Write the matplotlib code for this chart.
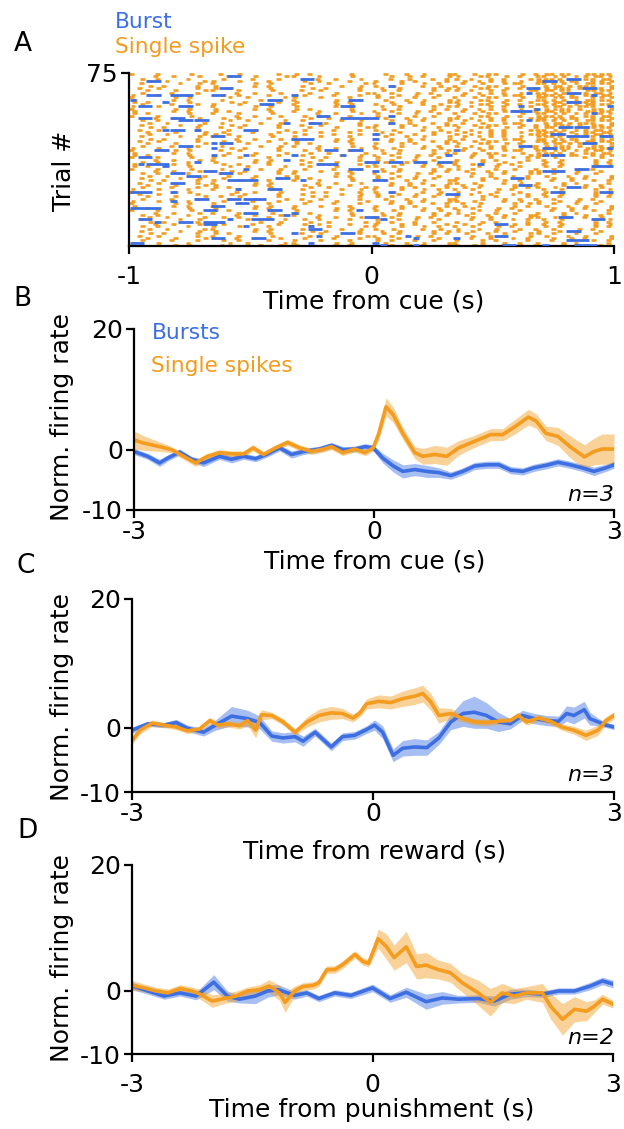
import matplotlib.pyplot as plt
import numpy as np

plt.rcParams['font.family'] = ['DejaVu Sans']
plt.rcParams['axes.unicode_minus'] = False

BLUE = '#3d6fe3'
ORANGE = '#f39c1f'

# Panel A raster: one string per trial, trial 75 first; 60 time bins from -1 to 1 s
# 'o' / 'c' / 'e' = single spike early / middle / late in the bin
RASTER_ROWS = [
    "o..c...e.. .o.e....c. e.o....c.. .e..o.c..e o.e.co..e. oeoco.ecco",
    "...o.c..e. ..o..e...c o..c...e.. ..c.e.o..e e..co.e.o. coee.oceoc",
    ".e.c...o.. .e...o..c. ...o.c..e. ..o.e..c.o c.o.e.o..e ecooe.coeo",
    "..c.e....o c..e...o.. .e.c...o.. c..e.o...o .c.oe.o.c. eoeceo.oce",
    ".c....o.e. o....e.c.. ..c.e....o o..e..c.o. .o.e..ceo. coce.oeoco",
    "..e.o...c. e....c.o.. .c....o.e. c.e...o.c. o.e.co..e. .ceoceco.e",
    ".o.e....c. e.o....c.. ..e.o...c. .o.c...e.c e..co.e.o. oeecoe.coe",
    "..o..e...c o..c...e.. .o.e....c. .c.o...e.o c.o.e.o..e oeoco.ecco",
    ".e...o..c. ...o.c..e. ..o..e...c o.c..e.o.. .c.oe.o.c. coee.oceoc",
    "c..e...o.. .e.c...o.. .e...o..c. e..o.c..o. .o.e..ceo. ecooe.coeo",
    "o....e.c.. ..c.e....o c..e...o.. e.c..o.e.. o.e.co..e. eoeceo.oce",
    "e....c.o.. .c....o.e. o....e.c.. .e..o.c..e e..co.e.o. coce.oeoco",
    "e.o....c.. ..e.o...c. e....c.o.. ..c.e.o..e c.o.e.o..e .ceoceco.e",
    ".e...o..c. c..e...o.. o....e.c.. c.e...o.c. e..co.e.o. coce.oeoco",
    "c..e...o.. o....e.c.. e....c.o.. .o.c...e.c c.o.e.o..e .ceoceco.e",
    "o....e.c.. e....c.o.. e.o....c.. .c.o...e.o .c.oe.o.c. oeecoe.coe",
    "e....c.o.. e.o....c.. o..c...e.. o.c..e.o.. .o.e..ceo. oeoco.ecco",
    "e.o....c.. o..c...e.. ...o.c..e. e..o.c..o. o.e.co..e. coee.oceoc",
    "o..c...e.. ...o.c..e. .e.c...o.. e.c..o.e.. e..co.e.o. ecooe.coeo",
    "...o.c..e. .e.c...o.. ..c.e....o .e..o.c..e c.o.e.o..e eoeceo.oce",
    ".e.c...o.. ..c.e....o .c....o.e. ..c.e.o..e .c.oe.o.c. coce.oeoco",
    "..c.e....o .c....o.e. ..e.o...c. ..o.e..c.o .o.e..ceo. .ceoceco.e",
    ".c....o.e. ..e.o...c. .o.e....c. c..e.o...o o.e.co..e. oeecoe.coe",
    "..e.o...c. .o.e....c. ..o..e...c o..e..c.o. e..co.e.o. oeoco.ecco",
    ".o.e....c. ..o..e...c .e...o..c. c.e...o.c. c.o.e.o..e coee.oceoc",
    "..o..e...c .e...o..c. c..e...o.. .o.c...e.c .c.oe.o.c. ecooe.coeo",
    "..c.e....o e.o....c.. .e...o..c. e.c..o.e.. c.o.e.o..e coee.oceoc",
    ".c....o.e. o..c...e.. c..e...o.. .e..o.c..e .c.oe.o.c. ecooe.coeo",
    "..e.o...c. ...o.c..e. o....e.c.. ..c.e.o..e .o.e..ceo. eoeceo.oce",
    ".o.e....c. .e.c...o.. e....c.o.. ..o.e..c.o o.e.co..e. coce.oeoco",
    "..o..e...c ..c.e....o e.o....c.. c..e.o...o e..co.e.o. .ceoceco.e",
    ".e...o..c. .c....o.e. o..c...e.. o..e..c.o. c.o.e.o..e oeecoe.coe",
    "c..e...o.. ..e.o...c. ...o.c..e. c.e...o.c. .c.oe.o.c. oeoco.ecco",
    "o....e.c.. .o.e....c. .e.c...o.. .o.c...e.c .o.e..ceo. coee.oceoc",
    "e....c.o.. ..o..e...c ..c.e....o .c.o...e.o o.e.co..e. ecooe.coeo",
    "e.o....c.. .e...o..c. .c....o.e. o.c..e.o.. ..c.e.o..e eoeceo.oce",
    "o..c...e.. c..e...o.. ..e.o...c. e..o.c..o. ..o.e..c.o c.e...o.c.",
    "...o.c..e. o....e.c.. .o.e....c. e.c..o.e.. c..e.o...o .o.c...e.c",
    ".e.c...o.. e....c.o.. ..o..e...c .e..o.c..e o..e..c.o. .c.o...e.o",
    "e....c.o.. .e.c...o.. .o.e....c. o..e..c.o. o.c..e.o.. .o.c...e.c",
    "e.o....c.. ..c.e....o ..o..e...c c.e...o.c. e..o.c..o. .c.o...e.o",
    "o..c...e.. .c....o.e. .e...o..c. .o.c...e.c e.c..o.e.. o.c..e.o..",
    "...o.c..e. ..e.o...c. c..e...o.. .c.o...e.o .e..o.c..e e..o.c..o.",
    ".e.c...o.. .o.e....c. o....e.c.. o.c..e.o.. ..c.e.o..e e.c..o.e..",
    "..c.e....o ..o..e...c e....c.o.. e..o.c..o. ..o.e..c.o .e..o.c..e",
    ".c....o.e. .e...o..c. e.o....c.. e.c..o.e.. c..e.o...o ..c.e.o..e",
    "..e.o...c. c..e...o.. o..c...e.. .e..o.c..e o..e..c.o. ..o.e..c.o",
    ".o.e....c. o....e.c.. ...o.c..e. ..c.e.o..e c.e...o.c. c..e.o...o",
    "..o..e...c e....c.o.. .e.c...o.. ..o.e..c.o .o.c...e.c o..e..c.o.",
    ".e...o..c. e.o....c.. ..c.e....o c..e.o...o .c.o...e.o c.e...o.c.",
    "c..e...o.. o..c...e.. .c....o.e. o..e..c.o. o.c..e.o.. .o.c...e.c",
    "o....e.c.. ...o.c..e. ..e.o...c. c.e...o.c. e..o.c..o. .c.o...e.o",
    ".o.e....c. ..e.o...c. .c....o.e. e..o.c..o. ..o.e..c.o .o.c...e.c",
    "..o..e...c .o.e....c. ..e.o...c. e.c..o.e.. c..e.o...o .c.o...e.o",
    ".e...o..c. ..o..e...c .o.e....c. .e..o.c..e o..e..c.o. o.c..e.o..",
    "c..e...o.. .e...o..c. ..o..e...c ..c.e.o..e c.e...o.c. e..o.c..o.",
    "o....e.c.. c..e...o.. .e...o..c. ..o.e..c.o .o.c...e.c e.c..o.e..",
    "e....c.o.. o....e.c.. c..e...o.. c..e.o...o .c.o...e.o .e..o.c..e",
    "e.o....c.. e....c.o.. o....e.c.. o..e..c.o. o.c..e.o.. ..c.e.o..e",
    "o..c...e.. e.o....c.. e....c.o.. c.e...o.c. e..o.c..o. ..o.e..c.o",
    "...o.c..e. o..c...e.. e.o....c.. .o.c...e.c e.c..o.e.. c..e.o...o",
    ".e.c...o.. ...o.c..e. o..c...e.. .c.o...e.o .e..o.c..e o..e..c.o.",
    "..c.e....o .e.c...o.. ...o.c..e. o.c..e.o.. ..c.e.o..e c.e...o.c.",
    ".c....o.e. ..c.e....o .e.c...o.. e..o.c..o. ..o.e..c.o .o.c...e.c",
    "..e.o...c. .c....o.e. ..c.e....o e.c..o.e.. c..e.o...o .c.o...e.o",
    "...o.c..e. .e...o..c. .e.c...o.. c..e.o...o .c.o...e.o .o.c...e.c",
    ".e.c...o.. c..e...o.. ..c.e....o o..e..c.o. o.c..e.o.. .c.o...e.o",
    "..c.e....o o....e.c.. .c....o.e. c.e...o.c. e..o.c..o. o.c..e.o..",
    ".c....o.e. e....c.o.. ..e.o...c. .o.c...e.c e.c..o.e.. e..o.c..o.",
    "..e.o...c. e.o....c.. .o.e....c. .c.o...e.o .e..o.c..e e.c..o.e..",
    ".o.e....c. o..c...e.. ..o..e...c o.c..e.o.. ..c.e.o..e .e..o.c..e",
    "..o..e...c ...o.c..e. .e...o..c. e..o.c..o. ..o.e..c.o ..c.e.o..e",
    ".e...o..c. .e.c...o.. c..e...o.. e.c..o.e.. c..e.o...o ..o.e..c.o",
    "c..e...o.. ..c.e....o o....e.c.. .e..o.c..e o..e..c.o. c..e.o...o",
    "o....e.c.. .c....o.e. e....c.o.. ..c.e.o..e c.e...o.c. o..e..c.o.",
]
SPIKE_OFFSET = {'o': 0.0, 'c': 0.2, 'e': 0.4}

# bursts: (trial, first bin, last bin)
BURSTS = [
    (74, 12, 13), (73, 21, 22), (73, 54, 55), (72, 2, 3), (72, 51, 52),
    (70, 32, 32), (69, 11, 12), (69, 49, 50), (69, 56, 57), (67, 49, 49),
    (67, 54, 55), (66, 2, 3), (66, 5, 7), (66, 10, 11), (66, 20, 20),
    (66, 57, 57), (64, 0, 0), (64, 17, 18), (64, 27, 28), (63, 4, 4),
    (63, 54, 55), (62, 16, 17), (61, 1, 2), (61, 6, 7), (61, 26, 27),
    (61, 48, 48), (61, 59, 59), (60, 50, 50), (59, 47, 49), (58, 57, 57),
    (57, 23, 24), (57, 32, 32), (56, 1, 2), (56, 5, 6), (56, 26, 30),
    (55, 6, 7), (55, 8, 9), (55, 49, 49), (54, 19, 19), (54, 22, 23),
    (54, 32, 32), (52, 53, 54), (52, 55, 56), (51, 4, 4), (51, 5, 6),
    (51, 8, 8), (51, 14, 15), (49, 30, 30), (49, 52, 53), (48, 10, 11),
    (48, 54, 56), (48, 58, 59), (47, 20, 22), (47, 30, 30), (45, 10, 10),
    (45, 11, 12), (45, 56, 57), (44, 6, 7), (44, 48, 49), (43, 10, 10),
    (43, 51, 52), (43, 59, 59), (42, 3, 4), (42, 24, 25), (42, 27, 28),
    (42, 40, 40), (40, 10, 10), (40, 14, 14), (40, 20, 20), (40, 26, 26),
    (40, 39, 39), (40, 51, 51), (40, 52, 53), (39, 1, 2), (38, 19, 19),
    (37, 8, 8), (37, 29, 30), (37, 32, 33), (37, 35, 36), (37, 38, 39),
    (36, 1, 1), (36, 2, 4), (36, 23, 25), (36, 43, 43), (35, 4, 4),
    (35, 57, 59), (34, 14, 14), (34, 27, 28), (34, 55, 56), (33, 9, 10),
    (33, 30, 30), (33, 51, 53), (32, 5, 6), (32, 11, 12), (31, 7, 8),
    (30, 18, 19), (30, 47, 48), (29, 12, 15), (29, 21, 21), (29, 30, 31),
    (28, 5, 6), (27, 48, 49), (26, 54, 55), (25, 13, 13), (25, 17, 18),
    (24, 0, 2), (24, 5, 5), (24, 32, 32), (24, 52, 53), (24, 58, 59),
    (23, 39, 40), (21, 8, 9), (21, 12, 13), (21, 14, 16), (20, 5, 5),
    (19, 13, 14), (18, 10, 11), (17, 0, 3), (16, 9, 10), (16, 17, 18),
    (16, 28, 28), (15, 14, 15), (15, 20, 20), (14, 19, 19), (13, 29, 30),
    (13, 53, 54), (12, 1, 2), (12, 12, 12), (12, 15, 17), (12, 31, 31),
    (12, 57, 58), (11, 3, 3), (11, 6, 7), (11, 9, 11), (10, 9, 10),
    (10, 45, 46), (9, 14, 14), (9, 22, 22), (8, 22, 23), (7, 54, 55),
    (6, 20, 20), (6, 26, 27), (5, 23, 23), (5, 34, 34), (5, 45, 46),
    (4, 10, 11), (4, 15, 16), (4, 35, 35), (4, 40, 40), (3, 54, 56),
    (2, 0, 1), (2, 22, 22), (2, 30, 30), (1, 31, 31), (1, 35, 35),
    (1, 46, 47), (1, 51, 51), (1, 55, 57),
]

# Panel B: time from cue
B_T_ORANGE = [-3.0, -2.88, -2.68, -2.53, -2.38, -2.23, -2.08, -1.93, -1.78, -1.63,
              -1.51, -1.38, -1.23, -1.08, -0.93, -0.78, -0.63, -0.53, -0.39, -0.24,
              -0.11, -0.01, 0.06, 0.15, 0.24, 0.36, 0.51, 0.61, 0.76, 0.91,
              1.06, 1.26, 1.46, 1.61, 1.76, 1.93, 2.03, 2.15, 2.30, 2.45,
              2.63, 2.75, 2.85, 3.0]
B_ORANGE = [1.6, 1.1, 0.5, 0.0, -1.1, -2.2, -1.1, -0.5, -0.7, -0.7,
            0.3, -0.8, 0.3, 1.2, 0.3, -0.3, 0.1, 0.5, -0.5, 0.1,
            -0.5, 0.3, 2.7, 7.1, 5.8, 2.7, -0.5, -1.1, -0.8, -1.1,
            0.3, 1.4, 2.5, 2.5, 3.8, 5.4, 4.7, 2.7, 2.2, 0.5,
            -1.2, -0.3, 0.1, 0.1]
B_ORANGE_ERR = [1.5, 1.2, 0.8, 0.5, 0.5, 0.6, 0.5, 0.5, 0.5, 0.5,
                0.5, 0.5, 0.5, 0.5, 0.5, 0.5, 0.5, 0.5, 0.5, 0.5,
                0.5, 0.5, 1.0, 1.5, 1.3, 1.0, 1.0, 1.3, 1.5, 1.5,
                1.2, 1.0, 1.0, 1.0, 1.2, 1.3, 1.2, 1.2, 1.5, 1.8,
                2.0, 2.2, 2.5, 2.5]
B_T_BLUE = [-3.0, -2.83, -2.68, -2.58, -2.43, -2.28, -2.13, -1.93, -1.78, -1.63,
            -1.48, -1.33, -1.18, -1.03, -0.88, -0.68, -0.53, -0.39, -0.24, -0.11,
            -0.01, 0.11, 0.24, 0.36, 0.51, 0.66, 0.81, 0.96, 1.11, 1.26,
            1.41, 1.56, 1.71, 1.86, 2.00, 2.15, 2.30, 2.45, 2.60, 2.75,
            2.90, 3.0]
B_BLUE = [-0.3, -1.1, -2.2, -1.4, -0.4, -1.6, -2.2, -1.1, -1.6, -1.1,
          -1.5, -0.7, 0.3, -0.8, -0.3, 0.1, 0.7, 0.0, 0.1, 0.5,
          0.3, -1.4, -2.7, -3.6, -3.3, -3.6, -3.8, -4.3, -3.6, -2.7,
          -2.5, -2.5, -3.4, -3.6, -3.0, -2.6, -2.1, -2.5, -3.0, -3.6,
          -3.0, -2.5]
B_BLUE_ERR = [0.5, 0.5, 0.6, 0.5, 0.5, 0.5, 0.6, 0.5, 0.6, 0.5,
              0.5, 0.5, 0.5, 0.6, 0.5, 0.5, 0.5, 0.5, 0.5, 0.5,
              0.5, 0.8, 1.0, 1.1, 1.0, 1.0, 0.8, 0.6, 0.6, 0.6,
              0.6, 0.6, 0.6, 0.6, 0.6, 0.6, 0.6, 0.6, 0.6, 0.7,
              0.6, 0.6]

# Panel C: time from reward
C_T_ORANGE = [-3.0, -2.90, -2.75, -2.60, -2.45, -2.31, -2.16, -2.03, -1.93, -1.81,
              -1.66, -1.56, -1.46, -1.39, -1.26, -1.12, -0.97, -0.82, -0.67, -0.52,
              -0.38, -0.25, -0.17, -0.08, 0.07, 0.22, 0.37, 0.52, 0.62, 0.72,
              0.82, 0.97, 1.12, 1.26, 1.41, 1.56, 1.71, 1.81, 1.91, 2.06,
              2.21, 2.35, 2.50, 2.65, 2.80, 2.90, 3.0]
C_ORANGE = [-2.0, -0.4, 0.7, 0.4, 0.1, -0.5, -0.2, 1.1, 0.4, 0.6,
            0.3, 1.1, -0.4, 2.0, 1.9, 0.9, -0.7, 0.9, 1.9, 2.3,
            2.2, 1.5, 2.2, 3.7, 4.1, 3.9, 4.5, 4.9, 5.3, 4.0,
            1.9, 2.2, 1.4, 0.9, 0.8, 1.0, 1.1, 1.9, 0.9, 1.5,
            1.0, 0.1, -0.4, -1.2, -0.4, 1.1, 1.9]
C_ORANGE_ERR = [0.6, 0.6, 0.5, 0.4, 0.4, 0.4, 0.4, 0.5, 0.5, 0.5,
                0.5, 0.8, 1.2, 0.8, 0.5, 0.5, 0.5, 0.8, 1.0, 1.0,
                0.8, 0.6, 0.6, 0.8, 1.0, 1.0, 1.2, 1.3, 1.3, 1.3,
                1.2, 0.8, 0.5, 0.5, 0.5, 0.5, 0.5, 0.5, 0.5, 0.5,
                0.5, 0.5, 0.6, 0.8, 0.8, 0.6, 0.6]
C_T_BLUE = [-3.0, -2.80, -2.60, -2.45, -2.31, -2.11, -1.96, -1.76, -1.56, -1.41,
            -1.26, -1.12, -0.97, -0.87, -0.72, -0.52, -0.38, -0.23, -0.08, 0.02,
            0.12, 0.25, 0.37, 0.52, 0.67, 0.82, 0.97, 1.12, 1.26, 1.41,
            1.56, 1.71, 1.86, 2.01, 2.16, 2.31, 2.41, 2.50, 2.63, 2.70,
            2.80, 2.90, 3.0]
C_BLUE = [-0.4, 0.6, 0.4, 0.8, -0.1, -0.7, 0.4, 1.8, 1.4, 0.8,
          -1.3, -1.6, -1.4, -2.1, -0.7, -3.0, -1.4, -1.2, -0.3, 0.4,
          -0.7, -4.3, -3.2, -3.0, -3.1, -1.6, 0.9, 2.2, 2.4, 1.9,
          0.9, 0.6, 1.9, 1.4, 1.1, 1.0, 2.2, 1.9, 2.8, 1.4,
          0.9, 0.4, 0.1]
C_BLUE_ERR = [0.5, 0.4, 0.4, 0.5, 0.5, 0.6, 0.8, 1.5, 1.3, 1.0,
              0.8, 0.8, 0.8, 0.8, 0.6, 0.6, 0.6, 0.6, 0.6, 0.8,
              1.0, 1.0, 1.2, 1.3, 1.2, 1.0, 1.2, 2.0, 2.5, 2.0,
              1.5, 0.8, 0.8, 0.8, 0.8, 0.8, 1.2, 1.3, 1.3, 1.0,
              0.6, 0.4, 0.4]

# Panel D: time from punishment
D_T_ORANGE = [-3.0, -2.85, -2.70, -2.55, -2.40, -2.25, -2.15, -2.0, -1.85, -1.70,
              -1.56, -1.41, -1.29, -1.16, -1.09, -0.97, -0.87, -0.74, -0.67, -0.57,
              -0.47, -0.37, -0.22, -0.12, -0.05, 0.07, 0.17, 0.27, 0.42, 0.55,
              0.67, 0.82, 0.97, 1.12, 1.32, 1.47, 1.62, 1.77, 1.92, 2.12,
              2.22, 2.37, 2.52, 2.67, 2.77, 2.87, 3.0]
D_ORANGE = [0.9, 0.5, 0.0, -0.3, 0.4, 0.0, -0.5, -1.6, -1.2, -0.8,
            0.0, 0.2, 0.8, -0.3, -1.8, 0.0, 0.7, 0.9, 1.3, 3.4,
            3.4, 4.2, 5.8, 4.7, 4.4, 8.3, 7.1, 5.3, 7.0, 3.9,
            4.1, 3.4, 2.9, 1.3, -0.3, -1.8, -0.3, -0.8, -0.3, -0.3,
            -2.4, -4.5, -2.9, -3.2, -2.4, -1.3, -2.1]
D_ORANGE_ERR = [0.8, 0.6, 0.6, 0.6, 0.6, 0.6, 0.8, 1.0, 0.8, 0.8,
                0.6, 0.8, 1.0, 1.2, 1.6, 0.8, 0.6, 0.6, 0.6, 0.6,
                0.6, 0.6, 0.6, 0.6, 0.6, 1.5, 2.0, 2.0, 2.5, 2.0,
                2.0, 1.5, 1.5, 1.5, 2.0, 2.2, 1.5, 1.2, 1.0, 1.5,
                2.0, 2.5, 2.0, 1.5, 1.0, 0.8, 0.6]
D_T_BLUE = [-3.0, -2.80, -2.60, -2.40, -2.20, -1.98, -1.81, -1.66, -1.46, -1.31,
            -1.17, -0.97, -0.82, -0.67, -0.47, -0.27, 0.0, 0.22, 0.42, 0.67,
            0.87, 1.07, 1.32, 1.52, 1.72, 1.92, 2.12, 2.32, 2.52, 2.72,
            2.87, 3.0]
D_BLUE = [0.8, 0.0, -0.8, -0.3, -0.8, 1.4, -0.8, -1.3, -0.8, 0.0,
          0.2, -0.7, -0.3, -1.2, -0.3, -0.7, 0.5, -1.2, -0.2, -1.7,
          -1.1, -1.3, -1.2, -1.6, -0.5, -0.3, -0.5, 0.0, 0.0, 0.8,
          1.6, 1.1]
D_BLUE_ERR = [0.6, 0.5, 0.5, 0.5, 0.6, 1.2, 0.8, 0.6, 1.2, 1.0,
              0.8, 0.6, 0.5, 0.5, 0.5, 0.5, 0.6, 0.6, 0.8, 1.2,
              1.0, 0.6, 0.6, 0.8, 0.8, 0.6, 0.5, 0.5, 0.5, 0.6,
              0.6, 0.6]

W, H = 624, 1129
FS = 18


def box(left, top, right, bottom):
    # pixel box -> figure rect
    return [left / W, 1 - bottom / H, (right - left) / W, (bottom - top) / H]


def ftext(fig, x, y, s, **kw):
    fig.text(x / W, 1 - y / H, s, ha=kw.pop('ha', 'center'), va=kw.pop('va', 'center'), **kw)


def style(ax, xpad):
    for side in ('top', 'right'):
        ax.spines[side].set_visible(False)
    for side in ('left', 'bottom'):
        ax.spines[side].set_linewidth(1.6)
    ax.tick_params(width=1.6, length=6, labelsize=FS, pad=2)
    ax.tick_params(axis='x', pad=xpad)


def draw_raster(ax):
    nbins = 60
    bw = 2.0 / nbins
    x0, x1, ys = [], [], []
    for k, row in enumerate(RASTER_ROWS):
        trial = 75 - k
        cells = row.replace(' ', '')
        for i, c in enumerate(cells):
            if c in SPIKE_OFFSET:
                off = SPIKE_OFFSET[c]
                x0.append(-1 + (i + off) * bw)
                x1.append(-1 + (i + off + 0.6) * bw)
                ys.append(trial - 0.5)
    ax.hlines(ys, x0, x1, color=ORANGE, lw=1.9, capstyle='butt')
    bx0 = [-1 + (b0 + 0.1) * bw for _, b0, _ in BURSTS]
    bx1 = [-1 + (b1 + 0.9) * bw for _, _, b1 in BURSTS]
    by = [tr - 0.5 for tr, _, _ in BURSTS]
    ax.hlines(by, bx0, bx1, color=BLUE, lw=2.0, capstyle='butt', zorder=3)
    ax.set_xlim(-1, 1)
    ax.set_ylim(0, 75)
    ax.set_xticks([-1, 0, 1])
    ax.set_xticklabels(['-1', '0', '1'])
    ax.set_yticks([75])
    ax.set_yticklabels(['75'])
    style(ax, 8)


def draw_psth(ax, blue, orange, xpad):
    for (t, m, e), c in ((blue, BLUE), (orange, ORANGE)):
        t, m, e = np.array(t), np.array(m), np.array(e)
        ax.fill_between(t, m - e, m + e, color=c, alpha=0.45, lw=0)
    for (t, m, e), c in ((blue, BLUE), (orange, ORANGE)):
        ax.plot(t, m, color=c, lw=2.6, solid_joinstyle='round')
    ax.set_xlim(-3, 3)
    ax.set_ylim(-10, 20)
    ax.set_xticks([-3, 0, 3])
    ax.set_xticklabels(['-3', '0', '3'])
    ax.set_yticks([-10, 0, 20])
    ax.set_yticklabels(['-10', '0', '20'])
    style(ax, xpad)


fig = plt.figure(figsize=(W / 100, H / 100), dpi=100)

axA = fig.add_axes(box(129, 73, 614, 246))
draw_raster(axA)
axB = fig.add_axes(box(134, 329, 614, 510))
draw_psth(axB, (B_T_BLUE, B_BLUE, B_BLUE_ERR), (B_T_ORANGE, B_ORANGE, B_ORANGE_ERR), 1)
axC = fig.add_axes(box(132, 599, 614, 792))
draw_psth(axC, (C_T_BLUE, C_BLUE, C_BLUE_ERR), (C_T_ORANGE, C_ORANGE, C_ORANGE_ERR), 1)
axD = fig.add_axes(box(132, 865, 613, 1054))
draw_psth(axD, (D_T_BLUE, D_BLUE, D_BLUE_ERR), (D_T_ORANGE, D_ORANGE, D_ORANGE_ERR), 8)

# panel letters
for s, x, y in (('A', 23, 44), ('B', 22, 299), ('C', 26, 566), ('D', 27, 831)):
    ftext(fig, x, y, s, fontsize=19)

# legends
ftext(fig, 115, 22, 'Burst', color=BLUE, fontsize=15.7, ha='left')
ftext(fig, 115, 47, 'Single spike', color=ORANGE, fontsize=15.7, ha='left')
ftext(fig, 152, 333, 'Bursts', color=BLUE, fontsize=15.7, ha='left')
ftext(fig, 151, 366, 'Single spikes', color=ORANGE, fontsize=15.7, ha='left')

# axis labels
ftext(fig, 64, 171, 'Trial #', fontsize=FS, rotation=90)
ftext(fig, 374, 302, 'Time from cue (s)', fontsize=FS)
ftext(fig, 375, 561, 'Time from cue (s)', fontsize=FS)
ftext(fig, 375, 852, 'Time from reward (s)', fontsize=FS)
ftext(fig, 372, 1110, 'Time from punishment (s)', fontsize=FS)
for yc in (417, 697, 958):
    ftext(fig, 62, yc, 'Norm. firing rate', fontsize=FS, rotation=90)

# n labels
for s, yc in (('n=3', 495), ('n=3', 775), ('n=2', 1038)):
    ftext(fig, 614, yc, s, fontsize=16, style='italic', ha='right')

fig.savefig('out.png', dpi=100)
